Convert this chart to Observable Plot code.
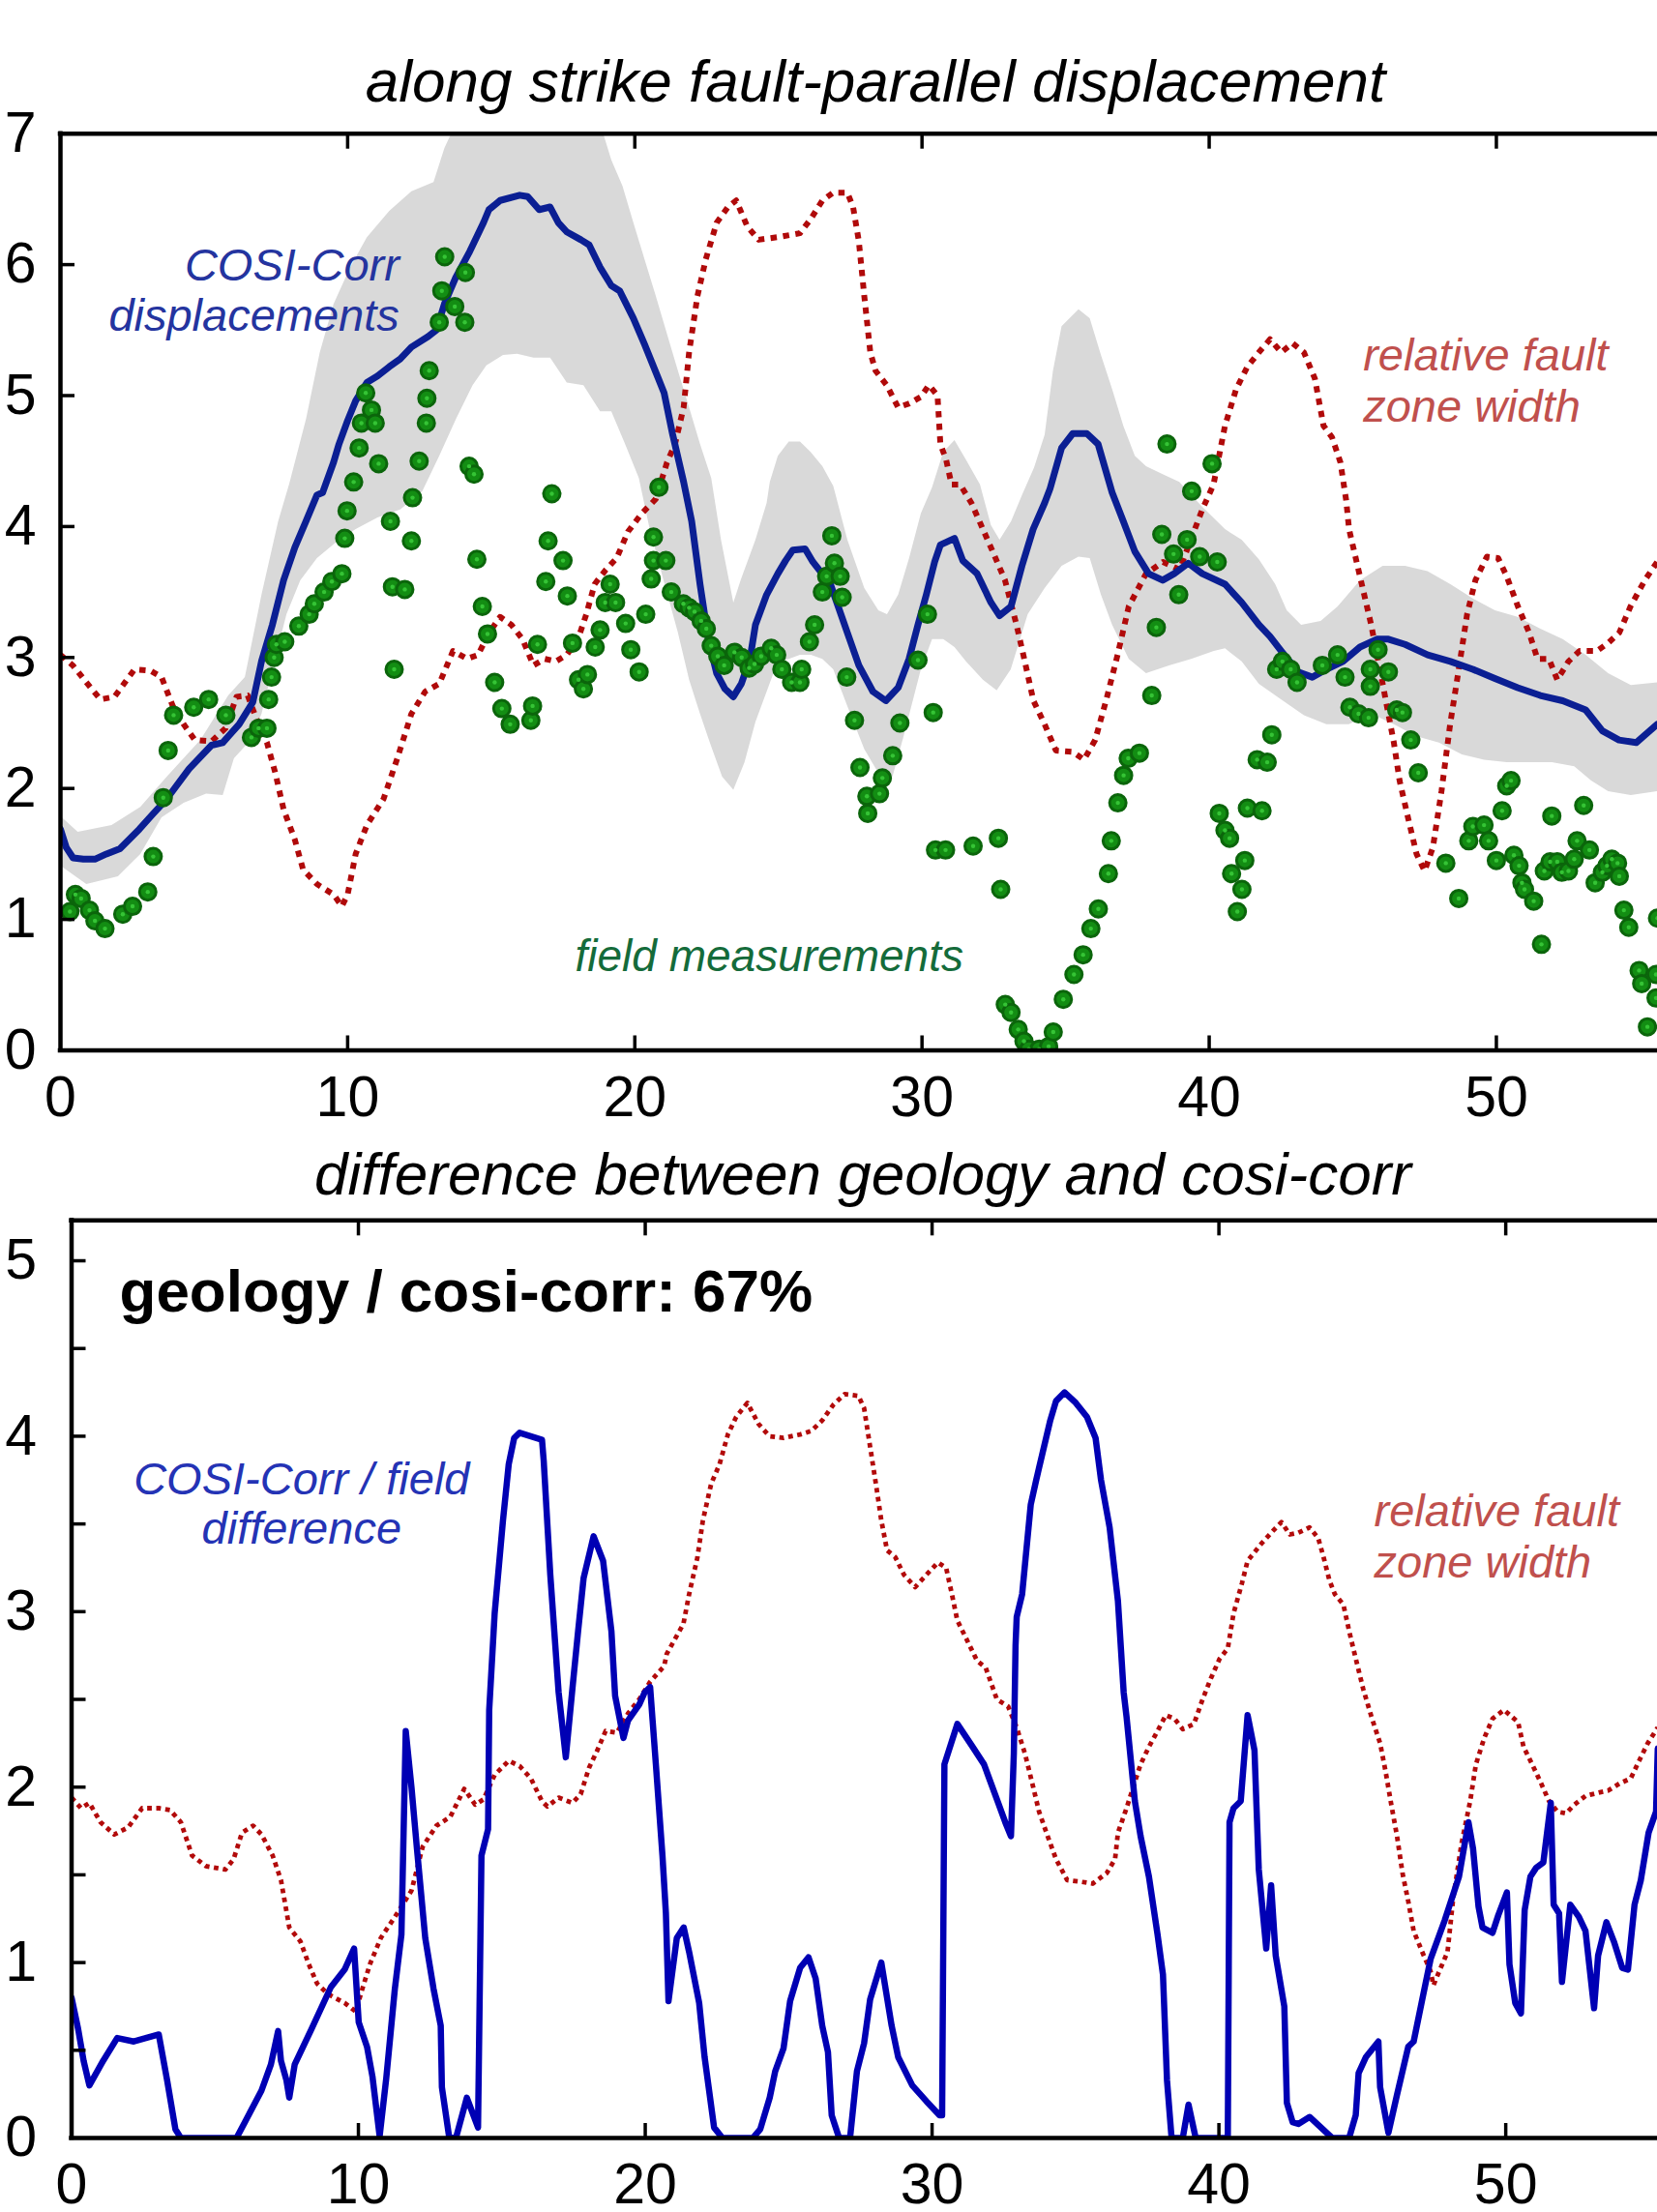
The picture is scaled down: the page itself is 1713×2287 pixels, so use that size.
<!DOCTYPE html>
<html><head><meta charset="utf-8">
<script src="https://cdn.jsdelivr.net/npm/d3@7"></script>
<script src="https://cdn.jsdelivr.net/npm/@observablehq/plot@0.6"></script>
<style>
html,body{margin:0;padding:0;background:#fff;overflow:hidden}
#page{position:relative;width:1713px;height:2287px;font-family:'Liberation Sans',Arial,Helvetica,sans-serif}
.panel{position:absolute;left:0}
.title{position:absolute;font-style:italic;font-size:62px;line-height:62px;white-space:nowrap;transform:translateX(-50%);color:#000;z-index:2}
</style></head><body><div id="page"></div>
<script>
// ---------- DATA (km along strike, metres) ----------
const titles = ["along strike fault-parallel displacement", "difference between geology and cosi-corr"];
const xTickValues = [0, 10, 20, 30, 40, 50];
const yTicksTop = [0, 1, 2, 3, 4, 5, 6, 7];
const yTicksBottom = [0, 1, 2, 3, 4, 5];
const yMinorBottom = [0.5, 1, 1.5, 2, 2.5, 3, 3.5, 4, 4.5, 5];

// COSI-Corr displacement (top panel, blue)
const cosiTop = [[0,1.69],[0.2,1.55],[0.44,1.47],[0.8,1.46],[1.2,1.46],[1.6,1.5],[2.07,1.54],[2.75,1.69],[3.2,1.8],[3.7,1.92],[4.48,2.15],[5.26,2.33],[5.65,2.35],[6.22,2.49],[6.7,2.66],[7,2.97],[7.38,3.25],[7.77,3.59],[8.16,3.84],[8.55,4.04],[8.93,4.24],[9.13,4.26],[9.51,4.49],[9.7,4.63],[10,4.81],[10.28,4.96],[10.67,5.1],[11.04,5.15],[11.45,5.22],[11.83,5.28],[12.22,5.37],[12.8,5.45],[13.09,5.5],[13.37,5.7],[13.76,5.9],[14.25,6.1],[14.73,6.32],[14.92,6.42],[15.31,6.49],[15.99,6.53],[16.27,6.52],[16.67,6.42],[17.05,6.44],[17.34,6.32],[17.63,6.25],[18.12,6.19],[18.41,6.15],[18.79,5.98],[19.18,5.84],[19.47,5.8],[19.95,5.59],[20.34,5.39],[20.82,5.13],[21.02,5.02],[21.31,4.71],[21.7,4.34],[21.98,4.04],[22.27,3.56],[22.56,3.14],[22.85,2.88],[23.14,2.76],[23.43,2.7],[23.71,2.8],[24.01,2.99],[24.2,3.25],[24.59,3.48],[24.98,3.64],[25.25,3.74],[25.5,3.82],[25.93,3.83],[26.2,3.73],[26.81,3.56],[27.4,3.19],[27.8,2.94],[28.29,2.74],[28.74,2.67],[29.17,2.77],[29.55,2.99],[29.86,3.25],[30.15,3.48],[30.44,3.73],[30.64,3.86],[31.13,3.91],[31.42,3.74],[31.92,3.64],[32.4,3.42],[32.7,3.32],[33.1,3.39],[33.48,3.7],[33.87,3.98],[34.27,4.18],[34.46,4.29],[34.86,4.6],[35.25,4.71],[35.74,4.71],[36.13,4.63],[36.62,4.26],[37.01,4.04],[37.41,3.81],[37.89,3.64],[38.38,3.59],[38.78,3.64],[39.27,3.72],[39.76,3.64],[40.55,3.56],[41.13,3.42],[41.73,3.25],[42.12,3.16],[42.51,3.05],[43.1,2.89],[43.59,2.85],[44.08,2.91],[44.66,2.97],[45.25,3.08],[45.84,3.14],[46.24,3.14],[46.82,3.1],[47.61,3.02],[48.4,2.97],[49.18,2.91],[49.95,2.84],[50.74,2.77],[51.53,2.71],[52.31,2.67],[53.11,2.6],[53.69,2.44],[54.27,2.37],[54.87,2.35],[55.6,2.49]];

// uncertainty band of COSI-Corr (grey)
const bandUpper = [[0,1.79],[0.6,1.67],[1.78,1.72],[2.78,1.86],[3.7,2.09],[4.87,2.37],[5.84,2.71],[6.42,2.85],[7,3.48],[7.58,4.04],[7.97,4.33],[8.55,4.82],[9.03,5.33],[9.51,5.7],[10.09,5.98],[10.67,6.21],[11.45,6.41],[12.22,6.56],[12.99,6.63],[13.37,6.89],[13.6,7],[14.5,7.4],[16,7.6],[17.5,7.5],[18.9,7],[19.18,6.8],[19.57,6.6],[19.95,6.32],[20.34,6.04],[20.73,5.76],[21.12,5.47],[21.5,5.19],[21.89,4.91],[22.27,4.63],[22.66,4.37],[23,3.9],[23.43,3.42],[23.7,3.6],[24.2,3.9],[24.59,4.18],[24.7,4.34],[24.98,4.54],[25.36,4.65],[25.75,4.65],[26.12,4.57],[26.53,4.46],[26.91,4.31],[27.4,3.9],[27.99,3.53],[28.48,3.36],[28.78,3.33],[29.17,3.48],[29.55,3.76],[29.96,4.1],[30.35,4.3],[30.74,4.57],[31.13,4.66],[31.53,4.51],[32.02,4.32],[32.4,4.01],[32.7,3.9],[33.1,4.04],[33.5,4.25],[33.9,4.45],[34.27,4.7],[34.56,5.19],[34.86,5.53],[35.45,5.66],[35.84,5.59],[36.23,5.31],[36.62,5.05],[37.01,4.77],[37.41,4.54],[37.8,4.46],[38.38,4.4],[38.96,4.34],[39.76,4.15],[40.55,3.98],[41.13,3.9],[41.73,3.75],[42.3,3.56],[42.7,3.36],[43.2,3.25],[43.88,3.28],[44.47,3.39],[45.25,3.59],[46.04,3.7],[46.82,3.7],[47.6,3.66],[48.4,3.56],[49.18,3.45],[49.95,3.36],[50.74,3.31],[51.53,3.22],[52.31,3.14],[53.11,3.02],[53.89,2.88],[54.68,2.79],[55.6,2.81]];
const bandLower = [[0,1.41],[0.9,1.27],[2,1.33],[2.78,1.5],[3.52,1.78],[4.29,1.89],[5.07,1.96],[5.65,1.95],[6.04,2.23],[6.62,2.37],[7,2.57],[7.38,2.91],[7.87,3.33],[8.35,3.59],[8.93,3.76],[9.7,3.9],[10.28,3.98],[11.04,4.07],[11.83,4.13],[12.6,4.27],[13.19,4.54],[13.77,4.82],[14.35,5.08],[14.83,5.23],[15.41,5.31],[15.9,5.32],[16.47,5.29],[17.05,5.29],[17.63,5.1],[18.21,5.08],[18.79,4.88],[19.18,4.88],[19.66,4.63],[20.14,4.37],[20.5,4],[21,3.59],[21.5,3.19],[21.89,2.83],[22.27,2.57],[22.66,2.32],[23.04,2.09],[23.43,1.99],[23.82,2.2],[24.2,2.51],[24.59,2.74],[24.98,2.97],[25.36,2.99],[25.75,3.02],[26.13,3.02],[26.53,2.99],[26.91,2.91],[27.4,2.63],[27.99,2.3],[28.58,2.08],[28.97,2.09],[29.36,2.4],[29.96,2.91],[30.35,3.14],[30.74,3.14],[31.13,3.08],[31.53,2.97],[32.12,2.83],[32.6,2.75],[33.09,2.91],[33.68,3.33],[34.27,3.53],[34.86,3.7],[35.45,3.77],[35.84,3.76],[36.23,3.48],[36.62,3.25],[37.2,2.99],[37.8,2.88],[38.6,2.94],[39.37,2.99],[40.16,3.05],[40.55,3.07],[41.13,2.97],[41.73,2.8],[42.51,2.68],[43.3,2.56],[44.08,2.49],[44.86,2.49],[45.64,2.57],[46.43,2.49],[47.2,2.4],[48,2.35],[48.8,2.26],[49.57,2.22],[50.36,2.2],[51.14,2.2],[51.93,2.2],[52.71,2.17],[53.3,2.06],[53.89,1.98],[54.68,1.95],[55.6,1.98]];

// relative fault zone width (top panel, red dotted)
const widthTop = [[0,3.02],[0.43,2.94],[0.83,2.83],[1.39,2.68],[1.88,2.7],[2.58,2.91],[3.13,2.9],[3.52,2.85],[3.91,2.63],[4.29,2.49],[4.68,2.37],[5.26,2.36],[5.75,2.46],[6.13,2.7],[6.52,2.71],[6.81,2.54],[7.19,2.35],[7.48,2.12],[7.77,1.84],[8.16,1.61],[8.45,1.38],[8.93,1.27],[9.51,1.19],[9.8,1.1],[10,1.19],[10.28,1.5],[10.67,1.72],[11.25,1.92],[11.73,2.23],[12.22,2.57],[12.7,2.74],[13.19,2.8],[13.67,3.05],[14.16,2.99],[14.54,3.02],[14.93,3.19],[15.31,3.31],[15.7,3.25],[16.09,3.14],[16.47,2.94],[16.86,2.99],[17.25,2.97],[17.63,3.02],[18.02,3.14],[18.31,3.33],[18.6,3.56],[18.99,3.67],[19.37,3.76],[19.76,3.96],[20.24,4.1],[20.73,4.21],[21.12,4.49],[21.4,4.63],[21.7,4.91],[21.89,5.33],[22.18,5.76],[22.47,6.04],[22.85,6.32],[23.24,6.44],[23.53,6.49],[23.92,6.29],[24.31,6.19],[24.98,6.21],[25.75,6.24],[26.13,6.35],[26.53,6.49],[26.91,6.55],[27.4,6.55],[27.6,6.44],[27.8,6.18],[27.99,5.76],[28.2,5.33],[28.38,5.19],[28.77,5.08],[29.17,4.91],[29.56,4.94],[29.96,4.99],[30.24,5.08],[30.54,5],[30.64,4.63],[30.84,4.51],[31.03,4.32],[31.33,4.32],[31.72,4.18],[32.12,3.98],[32.5,3.79],[32.89,3.59],[33.29,3.25],[33.58,2.97],[33.88,2.67],[34.27,2.49],[34.66,2.29],[35.25,2.28],[35.64,2.22],[36.03,2.37],[36.42,2.68],[36.81,3.02],[37.2,3.39],[37.8,3.64],[38.39,3.73],[38.97,3.67],[39.36,3.9],[39.76,4.13],[40.15,4.32],[40.55,4.77],[40.94,5.05],[41.33,5.22],[41.73,5.33],[42.12,5.43],[42.51,5.33],[42.9,5.4],[43.3,5.33],[43.68,5.13],[43.98,4.77],[44.28,4.68],[44.57,4.49],[44.77,4.2],[44.87,3.98],[45.25,3.62],[45.64,3.25],[46.04,2.8],[46.43,2.35],[46.63,2.06],[46.92,1.78],[47.22,1.5],[47.5,1.37],[47.79,1.55],[48.09,1.98],[48.39,2.49],[48.69,2.91],[48.98,3.33],[49.27,3.59],[49.67,3.77],[50.06,3.76],[50.36,3.62],[50.75,3.39],[51.14,3.19],[51.43,2.99],[51.83,2.99],[52.12,2.83],[52.51,2.97],[52.9,3.05],[53.5,3.05],[53.89,3.11],[54.28,3.19],[54.67,3.39],[55.17,3.59],[55.6,3.73]];

// field measurements (top panel, green dots)
const field = [[0.33,1.06],[0.52,1.19],[0.72,1.16],[1.01,1.07],[1.2,0.99],[1.55,0.93],[2.17,1.04],[2.51,1.1],[3.04,1.21],[3.23,1.48],[3.58,1.93],[3.75,2.29],[3.94,2.56],[4.64,2.62],[5.16,2.68],[5.76,2.56],[6.65,2.39],[6.9,2.46],[7.19,2.46],[7.25,2.68],[7.35,2.85],[7.44,3],[7.52,3.1],[7.81,3.12],[8.3,3.24],[8.66,3.33],[8.84,3.41],[9.18,3.5],[9.45,3.58],[9.8,3.64],[9.9,3.91],[9.98,4.12],[10.21,4.34],[10.4,4.6],[10.48,4.79],[10.63,5.02],[10.83,4.89],[10.96,4.79],[11.08,4.48],[11.49,4.04],[11.56,3.54],[11.62,2.91],[11.99,3.52],[12.22,3.89],[12.26,4.22],[12.49,4.5],[12.74,4.79],[12.76,4.98],[12.84,5.19],[13.19,5.56],[13.28,5.8],[13.38,6.06],[13.73,5.68],[14.08,5.56],[14.1,5.94],[14.23,4.46],[14.4,4.4],[14.5,3.75],[14.69,3.39],[14.87,3.18],[15.12,2.81],[15.37,2.61],[15.66,2.49],[16.38,2.52],[16.44,2.63],[16.61,3.1],[16.9,3.58],[16.98,3.89],[17.11,4.25],[17.5,3.74],[17.65,3.47],[17.83,3.11],[18.04,2.83],[18.21,2.76],[18.35,2.87],[18.62,3.08],[18.79,3.21],[18.97,3.42],[19.14,3.56],[19.33,3.42],[19.68,3.26],[19.86,3.06],[20.15,2.89],[20.38,3.33],[20.57,3.6],[20.65,3.74],[20.65,3.92],[20.84,4.3],[21.08,3.74],[21.27,3.5],[21.69,3.41],[21.89,3.38],[22.08,3.35],[22.31,3.28],[22.49,3.22],[22.66,3.09],[22.89,3.01],[23.11,2.94],[23.47,3.04],[23.72,3],[23.98,2.92],[24.17,2.95],[24.4,3.01],[24.75,3.07],[24.94,3.02],[25.12,2.91],[25.46,2.81],[25.75,2.81],[25.81,2.91],[26.08,3.12],[26.26,3.25],[26.53,3.5],[26.68,3.62],[26.86,3.93],[26.95,3.72],[27.15,3.62],[27.22,3.46],[27.38,2.85],[27.65,2.52],[27.84,2.16],[28.08,1.94],[28.11,1.81],[28.52,1.96],[28.62,2.08],[28.98,2.25],[29.23,2.5],[29.86,2.98],[30.19,3.33],[30.39,2.58],[30.47,1.53],[30.82,1.53],[31.78,1.56],[32.66,1.62],[32.74,1.23],[32.9,0.35],[33.1,0.29],[33.35,0.16],[33.55,0.07],[33.72,0.01],[34.08,0.01],[34.41,0.03],[34.57,0.14],[34.92,0.39],[35.29,0.58],[35.61,0.73],[35.88,0.93],[36.14,1.08],[36.49,1.35],[36.59,1.6],[36.82,1.89],[37.02,2.1],[37.18,2.23],[37.57,2.27],[38,2.71],[38.16,3.23],[38.35,3.94],[38.53,4.63],[38.76,3.79],[38.94,3.48],[39.23,3.9],[39.39,4.27],[39.67,3.77],[40.1,4.48],[40.28,3.73],[40.35,1.81],[40.55,1.68],[40.71,1.62],[40.78,1.35],[40.98,1.06],[41.14,1.23],[41.24,1.45],[41.33,1.85],[41.67,2.22],[41.84,1.83],[42.02,2.2],[42.18,2.41],[42.35,2.91],[42.55,2.97],[42.84,2.91],[43.06,2.81],[43.94,2.94],[44.47,3.02],[44.73,2.85],[44.9,2.62],[45.2,2.57],[45.55,2.54],[45.61,2.78],[45.61,2.91],[45.88,3.06],[46.24,2.89],[46.53,2.6],[46.73,2.58],[47.02,2.37],[47.28,2.12],[48.24,1.43],[48.69,1.16],[49.04,1.6],[49.18,1.71],[49.57,1.72],[49.73,1.6],[50,1.45],[50.2,1.83],[50.36,2.02],[50.51,2.06],[50.61,1.49],[50.79,1.41],[50.89,1.28],[50.98,1.23],[51.3,1.14],[51.57,0.81],[51.67,1.37],[51.87,1.44],[51.93,1.79],[52.12,1.44],[52.28,1.36],[52.51,1.37],[52.71,1.46],[52.81,1.6],[53.04,1.87],[53.24,1.53],[53.44,1.28],[53.69,1.36],[53.85,1.41],[54.02,1.46],[54.22,1.43],[54.28,1.33],[54.44,1.07],[54.61,0.94],[54.97,0.61],[55.06,0.51],[55.26,0.18],[55.56,0.58],[55.56,0.4],[55.61,1.01]];

// COSI-Corr / field difference (bottom panel, blue)
const diffBottom = [[0,0.8],[0.23,0.62],[0.42,0.44],[0.62,0.3],[1.1,0.44],[1.59,0.57],[2.17,0.55],[3.04,0.59],[3.33,0.33],[3.62,0.05],[3.81,0],[5.75,0],[6.04,0.09],[6.62,0.27],[6.95,0.42],[7.2,0.61],[7.3,0.44],[7.49,0.33],[7.59,0.23],[7.78,0.42],[8.36,0.62],[9.04,0.86],[9.52,0.96],[9.85,1.08],[10.01,0.66],[10.3,0.52],[10.49,0.35],[10.74,0.01],[10.97,0.34],[11.27,0.85],[11.5,1.16],[11.65,2.32],[11.85,2],[12.04,1.65],[12.33,1.14],[12.62,0.85],[12.87,0.64],[12.91,0.29],[13.16,0.01],[13.4,0],[13.78,0.23],[14.17,0.06],[14.29,1.61],[14.52,1.76],[14.56,2.44],[14.75,2.99],[15.04,3.52],[15.24,3.84],[15.43,3.99],[15.62,4.02],[16.4,3.98],[16.46,3.86],[16.69,3.21],[16.98,2.54],[17.23,2.17],[17.46,2.56],[17.66,2.89],[17.85,3.19],[18.2,3.43],[18.53,3.29],[18.82,2.89],[18.95,2.52],[19.24,2.28],[19.4,2.38],[19.79,2.47],[19.98,2.54],[20.17,2.57],[20.37,2.13],[20.6,1.61],[20.72,1.28],[20.81,0.78],[21.1,1.14],[21.34,1.2],[21.53,1.06],[21.88,0.77],[22.07,0.46],[22.4,0.06],[22.69,0],[23.75,0],[24.01,0.05],[24.34,0.23],[24.53,0.38],[24.82,0.51],[25.05,0.78],[25.4,0.97],[25.69,1.03],[25.94,0.91],[26.17,0.64],[26.37,0.49],[26.5,0.13],[26.76,0],[27.14,0],[27.38,0.38],[27.63,0.54],[27.84,0.79],[28.23,1],[28.59,0.64],[28.82,0.46],[29.31,0.3],[29.8,0.21],[30.26,0.13],[30.35,0.13],[30.43,2.13],[30.88,2.36],[31.37,2.24],[31.81,2.13],[32.26,1.93],[32.55,1.8],[32.75,1.72],[32.85,2.19],[32.91,2.81],[32.95,2.97],[33.14,3.1],[33.44,3.61],[33.63,3.75],[33.73,3.82],[34.12,4.09],[34.32,4.2],[34.62,4.25],[35.01,4.19],[35.4,4.11],[35.7,3.99],[35.89,3.75],[36.19,3.48],[36.48,3.06],[36.68,2.54],[36.78,2.4],[37.07,1.92],[37.27,1.72],[37.56,1.49],[37.86,1.16],[38.05,0.93],[38.19,0.33],[38.35,0],[38.74,0],[38.94,0.19],[39.19,0],[40.31,0],[40.37,1.8],[40.51,1.88],[40.76,1.92],[41,2.41],[41.24,2.21],[41.39,1.53],[41.65,1.08],[41.82,1.44],[41.98,1.04],[42.28,0.75],[42.37,0.2],[42.57,0.09],[42.77,0.08],[43.16,0.12],[43.95,0],[44.54,0],[44.77,0.13],[44.87,0.37],[45.12,0.46],[45.56,0.55],[45.62,0.29],[45.91,0.03],[46.2,0.24],[46.6,0.52],[46.79,0.55],[47.09,0.79],[47.38,1.02],[47.87,1.24],[48.37,1.49],[48.7,1.8],[48.86,1.65],[49.05,1.32],[49.19,1.2],[49.54,1.17],[49.74,1.27],[50.04,1.4],[50.13,0.99],[50.33,0.77],[50.53,0.71],[50.66,1.3],[50.86,1.49],[51.06,1.54],[51.31,1.57],[51.57,1.91],[51.67,1.33],[51.86,1.28],[51.96,0.89],[52.25,1.33],[52.55,1.26],[52.78,1.18],[53.08,0.74],[53.22,1.04],[53.51,1.23],[53.77,1.12],[54.06,0.97],[54.26,0.96],[54.49,1.33],[54.71,1.47],[54.98,1.74],[55.24,1.86],[55.3,2.22]];

// relative fault zone width (bottom panel, red dotted)
const widthBottom = [[0,1.94],[0.33,1.88],[0.62,1.91],[1.01,1.8],[1.49,1.73],[1.97,1.77],[2.46,1.88],[3.04,1.88],[3.43,1.87],[3.81,1.8],[4.2,1.61],[4.68,1.55],[5.36,1.53],[5.65,1.59],[5.94,1.74],[6.33,1.78],[6.62,1.73],[7.01,1.61],[7.3,1.47],[7.59,1.2],[7.98,1.12],[8.27,0.99],[8.56,0.88],[8.94,0.82],[9.52,0.77],[9.91,0.72],[10.1,0.83],[10.4,0.99],[10.78,1.14],[11.27,1.26],[11.85,1.41],[12.24,1.66],[12.72,1.78],[13.2,1.83],[13.69,1.99],[14.07,1.9],[14.36,1.93],[14.75,2.07],[15.24,2.15],[15.62,2.12],[16.01,2.05],[16.4,1.92],[16.59,1.89],[16.98,1.94],[17.46,1.91],[17.75,1.96],[18.04,2.11],[18.33,2.21],[18.62,2.32],[19.01,2.31],[19.4,2.42],[19.79,2.5],[20.17,2.6],[20.66,2.69],[20.75,2.76],[21.33,2.93],[21.53,3.1],[21.82,3.31],[22.01,3.52],[22.3,3.73],[22.59,3.84],[22.88,4.01],[23.17,4.11],[23.56,4.19],[23.95,4.07],[24.33,4],[24.82,3.99],[25.4,4.01],[25.79,4.03],[26.17,4.09],[26.56,4.18],[26.95,4.24],[27.43,4.23],[27.63,4.16],[27.84,3.94],[28.04,3.73],[28.23,3.52],[28.43,3.35],[28.72,3.31],[29.02,3.21],[29.41,3.14],[29.8,3.21],[30.2,3.28],[30.49,3.25],[30.69,3.1],[30.88,2.95],[31.18,2.85],[31.57,2.72],[31.87,2.68],[32.26,2.5],[32.65,2.46],[32.95,2.34],[33.24,2.19],[33.54,1.99],[33.73,1.86],[34.03,1.72],[34.32,1.59],[34.71,1.47],[35.21,1.46],[35.6,1.45],[36.09,1.51],[36.38,1.59],[36.48,1.74],[36.78,1.88],[37.07,2.03],[37.27,2.13],[37.56,2.23],[37.86,2.32],[38.15,2.41],[38.45,2.39],[38.74,2.33],[39.13,2.36],[39.43,2.5],[39.72,2.62],[40.02,2.73],[40.31,2.79],[40.51,2.99],[40.8,3.16],[41,3.29],[41.2,3.33],[41.49,3.39],[41.88,3.46],[42.18,3.51],[42.47,3.44],[42.77,3.45],[43.16,3.48],[43.46,3.42],[43.65,3.31],[43.85,3.18],[44.04,3.1],[44.34,3.04],[44.54,2.89],[44.73,2.76],[45.03,2.56],[45.32,2.4],[45.62,2.25],[45.81,2.09],[46.01,1.9],[46.21,1.72],[46.4,1.51],[46.6,1.35],[46.79,1.18],[47.09,1.06],[47.38,0.95],[47.48,0.87],[47.68,0.95],[47.97,1.06],[48.17,1.37],[48.46,1.68],[48.76,1.92],[48.96,2.13],[49.25,2.28],[49.54,2.39],[49.94,2.44],[50.43,2.37],[50.62,2.23],[50.92,2.13],[51.21,2.03],[51.51,1.92],[51.8,1.86],[52.1,1.85],[52.39,1.9],[52.78,1.95],[53.28,1.97],[53.57,1.98],[53.96,2.02],[54.36,2.05],[54.65,2.15],[54.95,2.25],[55.3,2.34]];

const labelsTop = ["COSI-Corr\ndisplacements", "relative fault\nzone width", "field measurements"];
const labelsBottom = ["geology / cosi-corr: 67%", "COSI-Corr / field\ndifference", "relative fault\nzone width"];

// ---------- RENDER ----------
const FONT = "'Liberation Sans', Arial, Helvetica, sans-serif";
const page = document.getElementById("page");
const xy = (arr) => arr.map(([x, y]) => ({x, y}));
const bandPoly = xy(bandUpper).concat(xy(bandLower).reverse());
const intFmt = (d) => String(d);

function frameMarks(yTop, yLabels, yTickVals, labelPad) {
  return [
    Plot.ruleY([0, yTop], {strokeWidth: 4.5, strokeLinecap: "square"}),
    Plot.ruleX([0], {strokeWidth: 4.5, strokeLinecap: "square"}),
    Plot.axisX(xTickValues.slice(1), {anchor: "bottom", tickSize: 15, dy: -15, strokeWidth: 3.5, fill: "none", label: null}),
    Plot.axisX(xTickValues.slice(1), {anchor: "top", tickSize: 15, dy: 15, strokeWidth: 3.5, fill: "none", label: null}),
    Plot.axisY(yTickVals, {anchor: "left", tickSize: 15, dx: 15, strokeWidth: 3.5, fill: "none", label: null}),
    Plot.axisX(xTickValues, {anchor: "bottom", tickSize: 0, tickPadding: 26, fontSize: 59, stroke: "none", label: null, tickFormat: intFmt}),
    Plot.axisY(yLabels, {anchor: "left", tickSize: 0, tickPadding: labelPad, fontSize: 59, stroke: "none", label: null, tickFormat: intFmt})
  ];
}

const topChart = Plot.plot({
  width: 1713, height: 1060,
  marginTop: 37.7, marginBottom: 74.5, marginLeft: 62, marginRight: 0,
  style: {fontFamily: FONT, background: "transparent", color: "black", overflow: "visible"},
  x: {domain: [0, 55.61]},
  y: {domain: [0, 7]},
  marks: [
    Plot.line(bandPoly, {x: "x", y: "y", fill: "#d9d9d9", stroke: "none", clip: true}),
    Plot.line(xy(widthTop), {x: "x", y: "y", stroke: "#b00a0a", strokeWidth: 6, strokeDasharray: "6.5,6.5", strokeLinecap: "butt", clip: true}),
    Plot.line(xy(cosiTop), {x: "x", y: "y", stroke: "#0b1f93", strokeWidth: 7, clip: true}),
    Plot.dot(xy(field), {x: "x", y: "y", r: 8.5, fill: "#138d13", stroke: "#0b650b", strokeWidth: 3, clip: true}),
    Plot.dot(xy(field), {x: "x", y: "y", r: 2.2, fill: "#35c435", stroke: "none", clip: true}),
    Plot.text([labelsTop[0]], {x: () => 11.8, y: () => 5.493, textAnchor: "end", lineAnchor: "bottom", lineHeight: 1.117, fontSize: 47, fontStyle: "italic", fill: "#24349f"}),
    Plot.text([labelsTop[1]], {x: () => 45.36, y: () => 4.797, textAnchor: "start", lineAnchor: "bottom", lineHeight: 1.128, fontSize: 47, fontStyle: "italic", fill: "#c0504d"}),
    Plot.text([labelsTop[2]], {x: () => 17.92, y: () => 0.609, textAnchor: "start", lineAnchor: "bottom", fontSize: 46, fontStyle: "italic", fill: "#146b3a"}),
    ...frameMarks(7, yTicksTop, yTicksTop.slice(1, 7), 25)
  ]
});
topChart.classList.add("panel");
topChart.style.top = "100px";
page.appendChild(topChart);

const bottomChart = Plot.plot({
  width: 1713, height: 1042,
  marginTop: 16.3, marginBottom: 77, marginLeft: 73.5, marginRight: 0,
  style: {fontFamily: FONT, background: "transparent", color: "black", overflow: "visible"},
  x: {domain: [0, 55.29]},
  y: {domain: [0, 5.23]},
  marks: [
    Plot.line(xy(widthBottom), {x: "x", y: "y", stroke: "#b20a0a", strokeWidth: 4.8, strokeDasharray: "4.8,4.6", strokeLinecap: "butt", clip: true}),
    Plot.line(xy(diffBottom), {x: "x", y: "y", stroke: "#0000b4", strokeWidth: 6.5, clip: true}),
    Plot.text([labelsBottom[0]], {x: () => 1.67, y: () => 4.713, textAnchor: "start", lineAnchor: "bottom", fontSize: 62, fontWeight: "bold", fill: "black"}),
    Plot.text([labelsBottom[1]], {x: () => 8.02, y: () => 3.385, textAnchor: "middle", lineAnchor: "bottom", lineHeight: 1.106, fontSize: 47, fontStyle: "italic", fill: "#2433b5"}),
    Plot.text([labelsBottom[2]], {x: () => 45.41, y: () => 3.193, textAnchor: "start", lineAnchor: "bottom", lineHeight: 1.136, fontSize: 47, fontStyle: "italic", fill: "#c0504d"}),
    ...frameMarks(5.23, yTicksBottom, yMinorBottom, 36)
  ]
});
bottomChart.classList.add("panel");
bottomChart.style.top = "1245px";
page.appendChild(bottomChart);

// titles (HTML, above each SVG)
function addTitle(text, cx, baseline) {
  const d = document.createElement("div");
  d.className = "title";
  d.textContent = text;
  d.style.left = cx + "px";
  d.style.top = (baseline - 52.5) + "px";
  page.appendChild(d);
}
addTitle(titles[0], 905, 105);
addTitle(titles[1], 892, 1235);
</script></body></html>
